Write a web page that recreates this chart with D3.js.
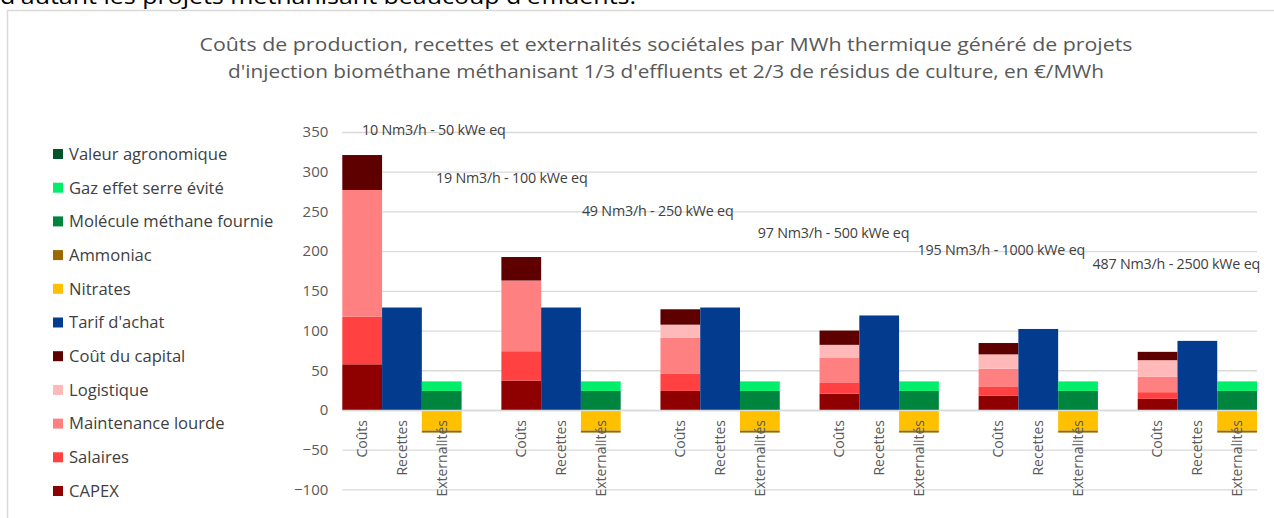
<!DOCTYPE html>
<html><head><meta charset="utf-8">
<script src="https://cdn.jsdelivr.net/npm/d3@7"></script>
<style>
body{margin:0;background:#fff;overflow:hidden;}
svg{display:block;}
text{font-family:"Open Sans","Noto Sans",sans-serif;}
</style>
</head><body>
<svg id="c" width="1274" height="518"></svg>
<script>
// ---------- data ----------
const titleLines = [
  "Coûts de production, recettes et externalités sociétales par MWh thermique généré de projets",
  "d'injection biométhane méthanisant 1/3 d'effluents et 2/3 de résidus de culture, en €/MWh"
];
const topText = "d'autant les projets méthanisant beaucoup d'effluents.";
const groups = ["10 Nm3/h - 50 kWe eq","19 Nm3/h - 100 kWe eq","49 Nm3/h - 250 kWe eq",
                "97 Nm3/h - 500 kWe eq","195 Nm3/h - 1000 kWe eq","487 Nm3/h - 2500 kWe eq"];
const subCategories = ["Coûts","Recettes","Externalités"];
// group label anchors (slot-units centre, value)
const groupLabelSlot = [2.30, 4.26, 7.93, 12.35, 16.57, 20.97];
const groupLabelValue = [353, 292, 250, 223, 201, 184];

const seriesNames = ["CAPEX","Salaires","Maintenance lourde","Logistique","Coût du capital",
  "Tarif d'achat","Nitrates","Ammoniac","Molécule méthane fournie","Gaz effet serre évité","Valeur agronomique"];
const seriesColors = ["#8f0000","#ff4141","#ff8080","#ffb9b9","#5e0000",
  "#033b8f","#ffc000","#9a6a00","#00853e","#00ee6a","#00552a"];
const seriesSub = ["Coûts","Coûts","Coûts","Coûts","Coûts",
  "Recettes","Externalités","Externalités","Externalités","Externalités","Externalités"];

const capex       = [57.5, 37, 24, 20.5, 18, 14];
const salaires    = [60, 37, 22, 13.5, 11, 8.4];
const maintenance = [159.5, 89, 45, 31.5, 23, 19.3];
const logistique  = [0, 0, 16.4, 16.5, 18, 21];
const coutCapital = [44, 29.6, 19.4, 18, 14.3, 10.5];
const tarifAchat  = [129, 129, 129, 119, 102, 87];
const nitrates    = [-26, -26, -26, -26, -26, -26];
const ammoniac    = [-2.5, -2.5, -2.5, -2.5, -2.5, -2.5];
const molecule    = [24, 24, 24, 24, 24, 24];
const gesEvite    = [12, 12, 12, 12, 12, 12];
const valeurAgro  = [0, 0, 0, 0, 0, 0];
const seriesValues = [capex, salaires, maintenance, logistique, coutCapital,
  tarifAchat, nitrates, ammoniac, molecule, gesEvite, valeurAgro];

const yTicks = [-100,-50,0,50,100,150,200,250,300,350];

// ---------- build table ----------
const rows = [];
groups.forEach((g, gi) => {
  subCategories.forEach(sub => {
    const r = {key: gi + "|" + sub, sub: sub, group: gi};
    seriesNames.forEach((s, si) => { r[s] = seriesSub[si] === sub ? seriesValues[si][gi] : 0; });
    rows.push(r);
  });
  if (gi < groups.length - 1) {
    const r = {key: gi + "|gap", sub: "", group: gi};
    seriesNames.forEach(s => r[s] = 0);
    rows.push(r);
  }
});

// ---------- layout ----------
const svg = d3.select("#c");
const plotLeft = 342.3, plotRight = 1257, yTop = 132, yBottom = 489.4;

svg.append("rect").attr("width",1274).attr("height",518).attr("fill","#fff");
// top cut-off body text (cut off in the source page as well)
svg.append("text").attr("x",0).attr("y",4).attr("font-size",21).attr("fill","#000")
  .attr("textLength",636).attr("lengthAdjust","spacingAndGlyphs")
  .text(topText);
// chart frame
svg.append("rect").attr("x",7.5).attr("y",10.5).attr("width",1300).attr("height",600)
  .attr("fill","#fff").attr("stroke","#d9d9d9").attr("stroke-width",1.5);

// title
const titleY = [45, 72], titleW = [933, 876];
titleLines.forEach((t,i) => {
  svg.append("text").attr("x",666).attr("y",titleY[i]).attr("dy","0.35em")
    .attr("text-anchor","middle").attr("font-size",18).attr("fill","#595959")
    .attr("textLength",titleW[i]).attr("lengthAdjust","spacingAndGlyphs")
    .text(t);
});

const x = d3.scaleBand().domain(rows.map(r=>r.key)).range([plotLeft, plotRight]).padding(0);
const y = d3.scaleLinear().domain([-100,350]).range([yBottom, yTop]);

// gridlines
svg.append("g").selectAll("line").data(yTicks).join("line")
  .attr("x1",plotLeft).attr("x2",plotRight)
  .attr("y1",d=>y(d)+0.5).attr("y2",d=>y(d)+0.5)
  .attr("stroke","#d9d9d9").attr("stroke-width",1.3);

// y axis labels
const yAxis = d3.axisLeft(y).tickValues(yTicks).tickSize(0).tickPadding(0);
const ya = svg.append("g").attr("transform",`translate(${plotLeft-14},0)`).call(yAxis);
ya.select(".domain").remove();
ya.selectAll("text").attr("font-size",15).attr("fill","#595959")
  .attr("font-family","'Open Sans',sans-serif");

// stacked bars
const stack = d3.stack().keys(seriesNames).offset(d3.stackOffsetDiverging);
const stacked = stack(rows);
svg.append("g").selectAll("g").data(stacked).join("g")
  .attr("fill",(d,i)=>seriesColors[i])
  .selectAll("rect").data(d=>d.filter(p=>p[1]!==p[0])).join("rect")
  .attr("x",p=>x(p.data.key))
  .attr("width",x.bandwidth())
  .attr("y",p=>y(Math.max(p[0],p[1])))
  .attr("height",p=>Math.abs(y(p[0])-y(p[1])));

// zero line on top
svg.append("line").attr("x1",plotLeft).attr("x2",plotRight)
  .attr("y1",y(0)+0.5).attr("y2",y(0)+0.5).attr("stroke","#d9d9d9").attr("stroke-width",1.3);

// category labels (rotated)
svg.append("g").selectAll("text").data(rows.filter(r=>r.sub!=="")).join("text")
  .attr("transform",r=>`translate(${x(r.key)+x.bandwidth()/2},${y(0)+10}) rotate(-90)`)
  .attr("text-anchor","end").attr("dy","0.35em")
  .attr("font-size",14).attr("fill","#595959")
  .text(r=>r.sub);

// group labels
const slotW = x.bandwidth();
svg.append("g").selectAll("text").data(groups).join("text")
  .attr("x",(g,i)=>plotLeft + groupLabelSlot[i]*slotW)
  .attr("y",(g,i)=>y(groupLabelValue[i]))
  .attr("dy","0.35em").attr("text-anchor","middle")
  .attr("font-size",14.3).attr("fill","#404040").attr("letter-spacing","-0.2")
  .text(g=>g);

// legend (reverse order)
const legendItems = seriesNames.map((s,i)=>({name:s,color:seriesColors[i]})).reverse();
const lg = svg.append("g").selectAll("g").data(legendItems).join("g")
  .attr("transform",(d,i)=>`translate(53,${154 + i*33.7})`);
lg.append("rect").attr("x",0).attr("y",-5).attr("width",10).attr("height",10).attr("fill",d=>d.color);
lg.append("text").attr("x",16).attr("dy","0.35em").attr("font-size",16.6).attr("fill","#404040").text(d=>d.name);
</script>
</body></html>
